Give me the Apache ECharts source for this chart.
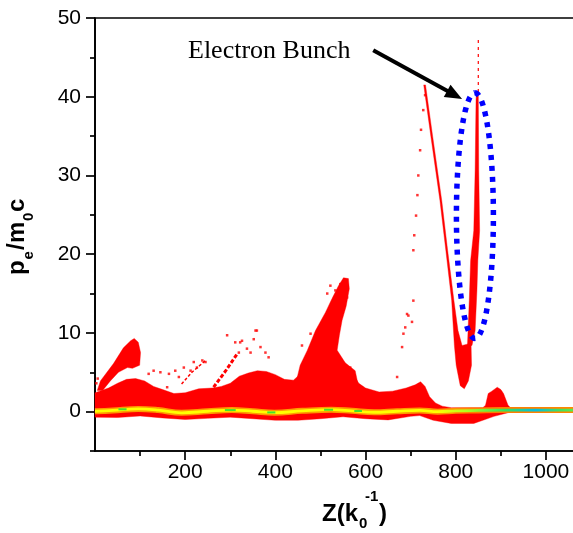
<!DOCTYPE html>
<html><head><meta charset="utf-8">
<script src="https://cdn.jsdelivr.net/npm/echarts@6/dist/echarts.min.js"></script>
<style>html,body{margin:0;padding:0;background:#fff}#c{width:573px;height:533px}</style>
</head><body><div id="c"></div>
<script>
// ---- axis ticks ----
const xTicksMajor = [200, 400, 600, 800, 1000];
const xTicksMinor = [100, 300, 500, 700, 900];
const yTicksMajor = [0, 10, 20, 30, 40, 50];
const yTicksMinor = [-5, 5, 15, 25, 35, 45];

// ---- particle cloud outlines (Z, pe/m0c) ----
const bandUpper = [[0,2.4],[10,2.6],[30,3.0],[50,3.6],[70,4.1],[90,4.2],[110,3.9],[130,3.2],[150,2.8],[175,2.3],[200,2.4],[230,2.9],[260,3.0],[280,3.2],[300,3.6],[320,4.5],[340,4.9],[360,5.2],[380,5.1],[400,4.7],[420,4.1],[440,4.0],[460,5.0],[480,5.6],[500,5.8],[530,5.5],[560,5.2],[575,4.5],[585,3.6],[600,3.0],[630,2.5],[660,2.6],[690,3.0],[710,3.4],[722,3.8],[732,3.2],[742,1.9],[755,1.1],[770,0.7],[790,0.5],[860,0.5],[866,0.8],[872,2.3],[880,2.6],[892,3.1],[900,2.8],[906,2.3],[916,0.8],[925,0.3]];
const bandLower = [[0,-0.7],[50,-0.75],[100,-0.55],[150,-0.8],[200,-1.0],[250,-0.85],[300,-0.7],[350,-0.9],[400,-1.1],[450,-1.1],[500,-0.9],[550,-0.65],[600,-0.9],[650,-1.05],[700,-0.6],[720,-0.5],[750,-1.1],[790,-1.5],[840,-1.5],[865,-1.0],[885,-0.6],[905,-0.3],[925,0.0]];
const humpLeft = [[5,2.7],[12,3.9],[41,6.1],[63,8.1],[79,9.0],[87,9.3],[96,8.8],[101,7.5],[99,5.9],[83,5.5],[72,5.6],[52,5.0],[34,3.9],[17,2.7]];
const filamentMid = [[444,3.3],[455,5.9],[471,7.8],[489,10.3],[511,12.6],[526,14.4],[540,16.0],[551,17.0],[562,16.9],[564,15.6],[557,13.4],[548,11.6],[542,9.7],[537,7.8],[555,6.2],[577,5.2],[584,3.3]];
const vLeftArm = [[729,41.5],[733,41.5],[749,34.9],[769,26.8],[782,20.5],[796,14.1],[805,10.3],[814,8.4],[834,8.7],[835,5.9],[828,3.9],[819,2.9],[810,3.3],[801,5.9],[797,8.4],[791,14.1],[778,20.5],[765,26.8],[745,34.9]];
const bunchCore = [[846,40.6],[850,40.6],[851,30.7],[853,23.0],[849,19.2],[847,15.4],[843,10.3],[836,8.4],[826,8.4],[830,14.1],[833,19.2],[840,23.0],[843,30.7],[845,39.6]];
const bunchTail = [[850,47.2],[850,40.6]];
const streakA = [[192,3.5],[215,5.0],[247,6.6]];
const streakB = [[263,3.1],[290,5.2],[316,7.4]];
const speckles = [[3,3.6],[6,4.2],[119,4.8],[130,5.2],[145,5.0],[164,4.8],[178,5.2],[186,4.4],[197,5.6],[212,5.2],[219,6.3],[226,5.6],[238,6.5],[245,6.3],[160,3.1],[293,9.7],[311,8.8],[326,9.0],[352,9.2],[359,10.3],[345,7.5],[319,7.5],[322,8.8],[337,8.0],[356,10.3],[367,8.2],[378,7.5],[385,6.9],[459,8.4],[478,9.9],[515,15.0],[522,16.0],[533,15.4],[544,16.2],[559,14.5],[566,5.6],[692,12.4],[688,10.7],[684,9.9],[681,8.2],[670,4.4],[695,12.2],[703,11.4],[706,14.1],[732,40.2],[728,38.3],[723,35.8],[721,33.2],[717,30.0],[715,27.5],[712,24.9],[708,22.4],[706,20.5]];

// ---- dense core of the distribution ----
const coreLine = [[0,0.05],[40,0.15],[96,0.35],[140,0.2],[192,-0.15],[250,0.05],[303,0.2],[350,0.05],[398,-0.13],[460,0.1],[524,0.25],[570,0.1],[619,-0.08],[670,0.05],[720,0.15],[760,0.0],[800,0.1],[850,0.15],[900,0.2],[1000,0.2],[1080,0.2]];
const coreGreen = [[52,70,0.3],[288,312,0.2],[382,400,-0.1],[508,528,0.24],[575,592,0.08]];

// ---- annotation ----
const ellipseCenter = [842.5, 24.9];
const ellipseRadius = [41, 15.6];
const arrowFrom = [617, 45.9];
const arrowTo = [814, 39.7];

const bandPoly = bandUpper.concat(bandLower.slice().reverse());
const polygons = [bandPoly, humpLeft, filamentMid, vLeftArm, bunchCore];

const chart = echarts.init(document.getElementById('c'), null, {renderer:'canvas'});
const FONT = 'Liberation Sans';
const axisLineStyle = {color:'#000', width:1.7};

const option = {
  animation:false,
  backgroundColor:'#fff',
  grid:{left:95, top:18, right:-9, bottom:82, show:true, borderColor:'#000', borderWidth:1.7, outerBoundsMode:'none'},
  xAxis:[
    {type:'value', min:0, max:1080, position:'bottom',
     axisLine:{show:true, onZero:false, lineStyle:axisLineStyle},
     axisTick:{show:true, inside:false, length:9, lineStyle:axisLineStyle, customValues:xTicksMajor},
     axisLabel:{show:true, customValues:xTicksMajor, fontSize:21, color:'#000', fontFamily:FONT, margin:11,
                formatter:(v)=>String(v)},
     splitLine:{show:false}},
    {type:'value', min:0, max:1080, position:'bottom',
     axisLine:{show:false, onZero:false},
     axisTick:{show:true, inside:false, length:5, lineStyle:axisLineStyle, customValues:xTicksMinor},
     axisLabel:{show:false}, splitLine:{show:false}}
  ],
  yAxis:[
    {type:'value', min:-5, max:50, position:'left',
     axisLine:{show:true, onZero:false, lineStyle:axisLineStyle},
     axisTick:{show:true, inside:false, length:9, lineStyle:axisLineStyle, customValues:yTicksMajor},
     axisLabel:{show:true, customValues:yTicksMajor, fontSize:21, color:'#000', fontFamily:FONT, margin:14,
                formatter:(v)=>String(v)},
     splitLine:{show:false}},
    {type:'value', min:-5, max:50, position:'left',
     axisLine:{show:false, onZero:false},
     axisTick:{show:true, inside:false, length:5, lineStyle:axisLineStyle, customValues:yTicksMinor},
     axisLabel:{show:false}, splitLine:{show:false}}
  ],
  series:[
    {type:'custom', name:'cloud', coordinateSystem:'cartesian2d', silent:true, z:2,
     encode:{x:0, y:1},
     data: polygons.map((p,i)=>[p[0][0], p[0][1], i]),
     renderItem:(params, api)=>{
       const poly = polygons[params.dataIndex];
       return {type:'polygon', shape:{points: poly.map(pt=>api.coord(pt))},
               style:{fill:'#ff0000', stroke:'#ff0000', lineWidth:0.4}};
     }},
    {type:'line', name:'bunchTail', data:bunchTail, symbol:'none', silent:true, z:3,
     lineStyle:{color:'#ff0000', width:1.2, type:[3,4]}},
    {type:'line', name:'streakA', data:streakA, symbol:'none', silent:true, z:3,
     lineStyle:{color:'#ff0000', width:1.5, type:[3,2]}},
    {type:'line', name:'streakB', data:streakB, symbol:'none', silent:true, z:3,
     lineStyle:{color:'#ff0000', width:3, type:[4,2]}},
    {type:'scatter', name:'speckles', data:speckles, symbol:'rect', symbolSize:2.5, silent:true, z:3,
     itemStyle:{color:'#ff0000'}},
    {type:'line', name:'coreOuter', data:coreLine, symbol:'none', smooth:0.4, silent:true, z:4,
     lineStyle:{width:6, color:new echarts.graphic.LinearGradient(0,0,1,0,[
       {offset:0, color:'#ff9a00'},{offset:0.7, color:'#ff9a00'},{offset:0.8, color:'#ff7a00'},{offset:1, color:'#ff8a00'}])}},
    {type:'line', name:'coreInner', data:coreLine, symbol:'none', smooth:0.4, silent:true, z:5,
     lineStyle:{width:2.8, color:new echarts.graphic.LinearGradient(0,0,1,0,[
       {offset:0, color:'#ffff00'},{offset:0.7, color:'#ffff00'},{offset:0.76, color:'#b0ff20'},
       {offset:0.84, color:'#30e060'},{offset:0.9, color:'#00c0e0'},{offset:0.95, color:'#40e060'},{offset:1, color:'#70f040'}])}},
    {type:'custom', name:'coreGreen', coordinateSystem:'cartesian2d', silent:true, z:6,
     encode:{x:0, y:2},
     data: coreGreen,
     renderItem:(params, api)=>{
       const s = coreGreen[params.dataIndex];
       const a = api.coord([s[0], s[2]]), b = api.coord([s[1], s[2]]);
       return {type:'line', shape:{x1:a[0], y1:a[1], x2:b[0], y2:b[1]}, style:{stroke:'#44e030', lineWidth:2}};
     }},
    {type:'custom', name:'ellipse', coordinateSystem:'cartesian2d', silent:true, z:10,
     encode:{x:0, y:1},
     data:[ellipseCenter],
     renderItem:(params, api)=>{
       const c = api.coord(ellipseCenter);
       const sz = api.size([ellipseRadius[0], ellipseRadius[1]]);
       const pts = [];
       const n = 180;
       for (let k=0; k<=n; k++) {
         const t = -Math.PI/2 + 2*Math.PI*k/n;
         pts.push([c[0] + sz[0]*Math.cos(t), c[1] + sz[1]*Math.sin(t)]);
       }
       return {type:'polyline', shape:{points:pts},
               style:{stroke:'#0000ff', fill:'none', lineWidth:5.5, lineDash:[5,6], lineCap:'butt'}};
     }},
    {type:'custom', name:'arrow', coordinateSystem:'cartesian2d', silent:true, z:10,
     encode:{x:0, y:1},
     data:[arrowFrom],
     renderItem:(params, api)=>{
       const a = api.coord(arrowFrom), b = api.coord(arrowTo);
       const dx = b[0]-a[0], dy = b[1]-a[1], L = Math.hypot(dx,dy);
       const ux = dx/L, uy = dy/L, hl = 17, hw = 7;
       const bx = b[0]-ux*hl, by = b[1]-uy*hl;
       return {type:'group', children:[
         {type:'line', shape:{x1:a[0], y1:a[1], x2:bx+ux*2, y2:by+uy*2}, style:{stroke:'#000', lineWidth:4}},
         {type:'polygon', shape:{points:[[b[0],b[1]],[bx-uy*hw, by+ux*hw],[bx+uy*hw, by-ux*hw]]}, style:{fill:'#000'}}
       ]};
     }}
  ],
  graphic:[
    {type:'text', left:188, top:38, style:{text:'Electron Bunch', font:'26px "Liberation Serif"', fill:'#000'}},
    // x axis title  Z(k0^-1)
    {type:'text', x:322, y:514, style:{text:'Z(k', font:'bold 24px "Liberation Sans"', fill:'#000', verticalAlign:'middle'}},
    {type:'text', x:359, y:524, style:{text:'0', font:'bold 15px "Liberation Sans"', fill:'#000', verticalAlign:'middle'}},
    {type:'text', x:365, y:497, style:{text:'-1', font:'bold 15px "Liberation Sans"', fill:'#000', verticalAlign:'middle'}},
    {type:'text', x:379, y:514, style:{text:')', font:'bold 24px "Liberation Sans"', fill:'#000', verticalAlign:'middle'}},
    // y axis title  pe/m0c (rotated)
    {type:'group', x:25, y:275, rotation:Math.PI/2, children:[
      {type:'text', x:0, y:-8, style:{text:'p', font:'bold 24px "Liberation Sans"', fill:'#000', verticalAlign:'middle'}},
      {type:'text', x:15.5, y:4, style:{text:'e', font:'bold 15px "Liberation Sans"', fill:'#000', verticalAlign:'middle'}},
      {type:'text', x:25, y:-8, style:{text:'/', font:'bold 24px "Liberation Sans"', fill:'#000', verticalAlign:'middle'}},
      {type:'text', x:32, y:-8, style:{text:'m', font:'bold 24px "Liberation Sans"', fill:'#000', verticalAlign:'middle'}},
      {type:'text', x:54, y:4, style:{text:'0', font:'bold 15px "Liberation Sans"', fill:'#000', verticalAlign:'middle'}},
      {type:'text', x:63, y:-8, style:{text:'c', font:'bold 24px "Liberation Sans"', fill:'#000', verticalAlign:'middle'}}
    ]}
  ]
};
chart.setOption(option);
</script>
</body></html>
